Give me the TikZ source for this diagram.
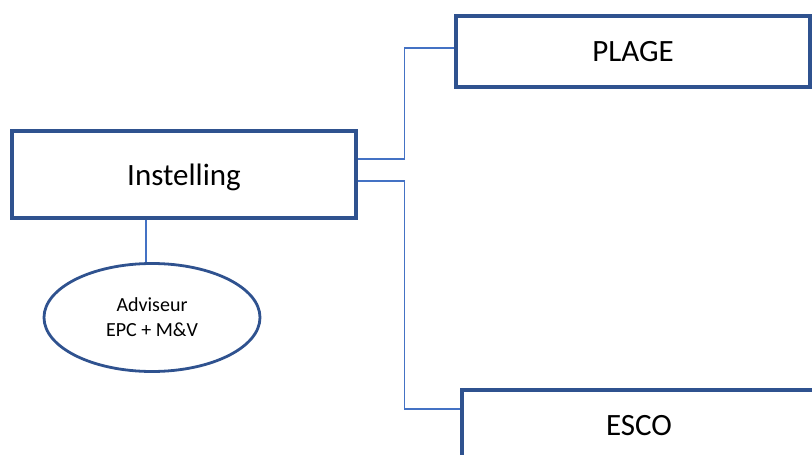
\documentclass[tikz,border=0pt]{standalone}
\usepackage{fontspec}
\setmainfont{Carlito}
\usepackage{xcolor}
\usetikzlibrary{shapes.geometric}
\definecolor{boxblue}{HTML}{2F528F}
\definecolor{lineblue}{HTML}{4472C4}
\tikzstyle{entity} = [rectangle, draw=boxblue, line width=3.4pt, fill=white, text=black, text depth=0pt, font=\fontsize{31}{37}\selectfont]
\tikzstyle{party} = [ellipse, draw=boxblue, line width=2.8pt, fill=white, align=center, font=\fontsize{20}{25}\selectfont]
\tikzstyle{link} = [draw=lineblue, line width=1.1pt]

\begin{document}
\begin{tikzpicture}[x=1pt, y=-1pt]
    \clip (0,0) rectangle (812,455);
    \useasboundingbox (0,0) rectangle (812,455);

    % Blokken
    \node (inst) [entity, minimum width=344pt, minimum height=87pt] at (184,174.5) {Instelling};
    \node (plage) [entity, minimum width=354pt, minimum height=71pt] at (633,51.5) {PLAGE};
    \node (esco) [entity, minimum width=354pt, minimum height=71pt] at (639,425.5) {ESCO};
    \node (adv) [party, minimum width=216pt, minimum height=108pt] at (152,317.5) {Adviseur\\EPC + M\&V};

    % Verbindingen
    \draw [link] ([yshift=15.5pt]inst.east) -- ++(47,0) |- ([yshift=3.5pt]plage.west);
    \draw [link] ([yshift=-6.5pt]inst.east) -- ++(47,0) |- ([yshift=16.5pt]esco.west);
    \draw [link] ([xshift=-38pt]inst.south) -- ([xshift=-38pt]inst.south |- adv.north);

\end{tikzpicture}
\end{document}
